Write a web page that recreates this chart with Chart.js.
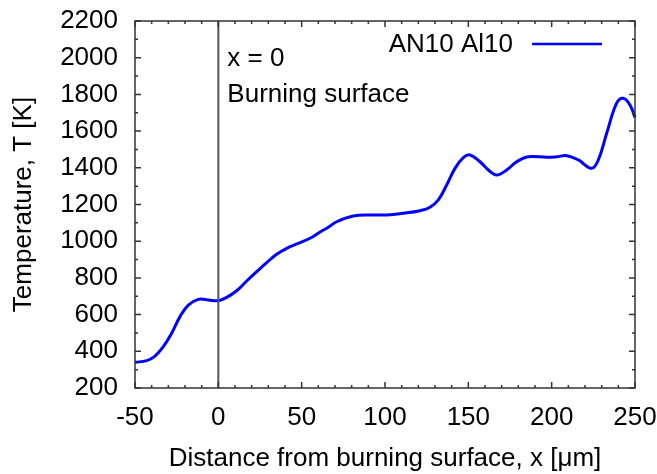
<!DOCTYPE html>
<html>
<head>
<meta charset="utf-8">
<script src="https://cdn.jsdelivr.net/npm/chart.js@4.4.1/dist/chart.umd.min.js"></script>
<style>
  html, body { margin: 0; padding: 0; background: #fff; }
  #wrap { width: 657px; height: 474px; }
</style>
</head>
<body>
<div id="wrap"><canvas id="tempchart" width="657" height="474"></canvas></div>
<script>
// distance from burning surface [um] and temperature [K]
var distance = [-50, -43, -38, -33, -28, -23, -18, -12, -6, 0, 5, 11, 17, 23, 29, 35, 41, 47, 55, 61, 66, 71, 81, 91, 101, 111, 121, 127, 132, 137, 142, 147, 151, 157, 162, 167, 173, 179, 186, 197, 203, 209, 216, 224, 228, 233, 239, 243, 247, 250];
var temperature = [340, 349, 374, 425, 498, 589, 652, 683, 680, 676, 694, 730, 783, 834, 883, 929, 961, 985, 1016, 1050, 1076, 1106, 1137, 1143, 1143, 1152, 1166, 1185, 1225, 1306, 1397, 1455, 1470, 1433, 1388, 1361, 1388, 1433, 1460, 1457, 1460, 1466, 1443, 1397, 1443, 1588, 1752, 1779, 1742, 1675];
var seriesName = "AN10 Al10";

var xTicks = [-50, 0, 50, 100, 150, 200, 250];
var yTicks = [200, 400, 600, 800, 1000, 1200, 1400, 1600, 1800, 2000, 2200];

var points = distance.map(function (x, i) { return { x: x, y: temperature[i] }; });

var FONT = "'Liberation Sans', Arial, sans-serif";
var FS = 26;

// frame, inward ticks on all four sides, x = 0 line, labels and legend
const framePlugin = {
  id: "gnuplotFrame",
  afterDatasetsDraw: (chart) => {
    let ctx = chart.ctx;
    let a = chart.chartArea;
    let xs = chart.scales.x;
    let ys = chart.scales.y;
    ctx.save();

    // burning surface line
    let x0 = xs.getPixelForValue(0);
    ctx.strokeStyle = "#555555";
    ctx.lineWidth = 2;
    ctx.beginPath();
    ctx.moveTo(x0, a.top);
    ctx.lineTo(x0, a.bottom);
    ctx.stroke();

    ctx.strokeStyle = "#333333";
    ctx.lineWidth = 1.5;
    ctx.beginPath();
    for (let v = -50; v <= 250; v += 10) {
      let p = xs.getPixelForValue(v);
      let len = v % 50 === 0 ? 6 : 3;
      ctx.moveTo(p, a.bottom); ctx.lineTo(p, a.bottom - len);
      ctx.moveTo(p, a.top); ctx.lineTo(p, a.top + len);
    }
    for (let v = 200; v <= 2200; v += 100) {
      let p = ys.getPixelForValue(v);
      let len = v % 200 === 0 ? 6 : 3;
      ctx.moveTo(a.left, p); ctx.lineTo(a.left + len, p);
      ctx.moveTo(a.right, p); ctx.lineTo(a.right - len, p);
    }
    ctx.stroke();
    ctx.strokeRect(a.left, a.top, a.right - a.left, a.bottom - a.top);

    // annotation text
    ctx.fillStyle = "#000";
    ctx.font = FS + "px " + FONT;
    ctx.textBaseline = "middle";
    ctx.textAlign = "left";
    ctx.fillText("x = 0", x0 + 9, a.top + 38);
    ctx.fillText("Burning surface", x0 + 9, a.top + 74);

    // legend
    ctx.textAlign = "right";
    ctx.fillText(seriesName, a.right - 122, a.top + 24);
    ctx.strokeStyle = "#0000ff";
    ctx.lineWidth = 2.5;
    ctx.beginPath();
    ctx.moveTo(a.right - 103, a.top + 23);
    ctx.lineTo(a.right - 33, a.top + 23);
    ctx.stroke();
    ctx.restore();
  },
};

var cfg = {
  type: "line",
  plugins: [framePlugin],
  data: {
    datasets: [
      {
        label: seriesName,
        data: points,
        borderColor: "#0000ff",
        borderWidth: 3,
        pointRadius: 0,
        tension: 0.4,
        clip: 3,
      },
    ],
  },
  options: {
    responsive: false,
    animation: false,
    layout: { padding: { left: 0, right: 22, top: 21, bottom: 0 } },
    plugins: { legend: { display: false }, tooltip: { enabled: false } },
    scales: {
      x: {
        type: "linear",
        min: -50,
        max: 250,
        afterBuildTicks: (s) => { s.ticks = xTicks.map((v) => ({ value: v })); },
        afterFit: (s) => { s.height = 86; s.paddingLeft = 0; s.paddingRight = 0; },
        grid: { display: false, drawTicks: false },
        border: { display: false },
        ticks: { color: "#000", font: { family: FONT, size: FS }, padding: 14, maxRotation: 0,
                 callback: (v) => String(v) },
        title: {
          display: true,
          text: "Distance from burning surface, x [\u03bcm]",
          color: "#000",
          font: { family: FONT, size: FS },
          padding: { top: 2, bottom: 0 },
        },
      },
      y: {
        min: 200,
        max: 2200,
        afterBuildTicks: (s) => { s.ticks = yTicks.map((v) => ({ value: v })); },
        afterFit: (s) => { s.width = 135; s.paddingTop = 0; s.paddingBottom = 0; },
        grid: { display: false, drawTicks: false },
        border: { display: false },
        ticks: { color: "#000", font: { family: FONT, size: FS }, padding: 17,
                 callback: (v) => String(v) },
        title: {
          display: true,
          text: "Temperature, T [K]",
          color: "#000",
          font: { family: FONT, size: FS },
          padding: { top: 8, bottom: 0 },
        },
      },
    },
  },
};

var chart = new Chart(document.getElementById("tempchart").getContext("2d"), cfg);
</script>
</body>
</html>
